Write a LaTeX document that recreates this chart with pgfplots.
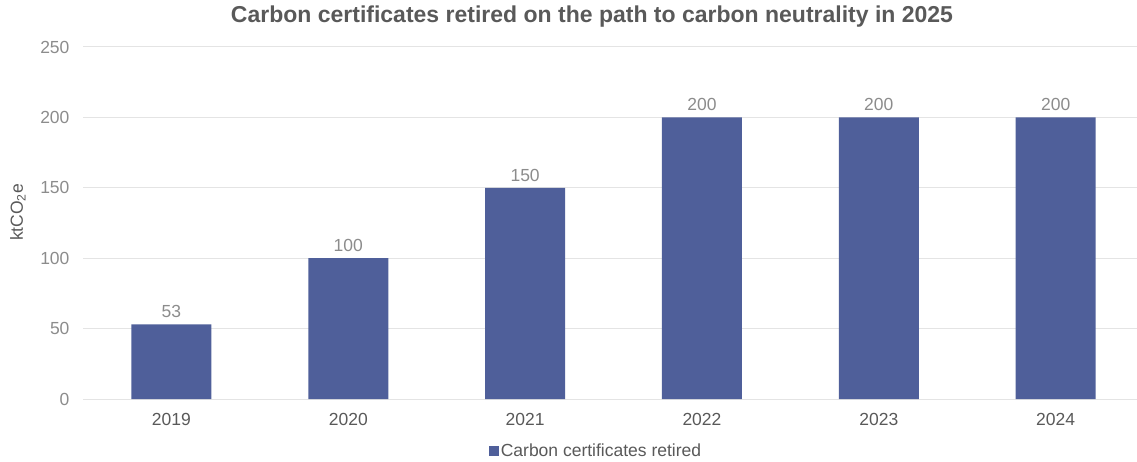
\documentclass[border=0pt]{standalone}
\usepackage{pgfplots}
\pgfplotsset{compat=1.18}
\usepackage{fontspec}
\setmainfont{Liberation Sans}

\definecolor{barblue}{HTML}{4F5F9A}
\definecolor{titlegray}{HTML}{595959}
\definecolor{ticklight}{HTML}{8C8C8C}
\definecolor{gridgray}{HTML}{E4E4E4}

\begin{document}
\begin{tikzpicture}[x=1pt,y=1pt]
\useasboundingbox (0,0) rectangle (1137,461);
\begin{axis}[
  at={(83pt,62pt)}, anchor=south west,
  scale only axis, width=1054pt, height=352pt,
  xmin=-0.5, xmax=5.46, ymin=0, ymax=250,
  enlargelimits=false,
  ybar, bar width=80pt,
  xtick=data,
  xticklabels={2019,2020,2021,2022,2023,2024},
  ytick={0,50,100,150,200,250},
  major tick length=0pt,
  axis line style={draw=none},
  ymajorgrids, grid style={gridgray, line width=1pt},
  /pgf/number format/assume math mode=true,
  font=\fontsize{17.5}{20}\selectfont,
  yticklabel style={color=ticklight, anchor=east, xshift=-10pt},
  xticklabel style={color=titlegray, anchor=north, yshift=-11pt},
  ylabel={ktCO\textsubscript{2}e},
  ylabel style={at={(axis description cs:-0.0617,0.53)}, anchor=center, color=titlegray},
  nodes near coords,
  nodes near coords style={color=ticklight, font=\fontsize{17.5}{20}\selectfont, anchor=south, yshift=3pt},
  legend style={at={(axis description cs:0.4867,-0.148)}, anchor=center, draw=none,
    text=titlegray, font=\fontsize{17.5}{20}\selectfont, inner sep=0pt},
  legend image code/.code={\fill[#1] (0pt,-5pt) rectangle (10pt,5pt);},
]
\addplot[fill=barblue, draw=none] coordinates {(0,53) (1,100) (2,150) (3,200) (4,200) (5,200)};
\addlegendentry{Carbon certificates retired}
\end{axis}
\node[font=\fontsize{23}{27}\selectfont\bfseries, color=titlegray] at (592,444) {Carbon certificates retired on the path to carbon neutrality in 2025};
\end{tikzpicture}
\end{document}
